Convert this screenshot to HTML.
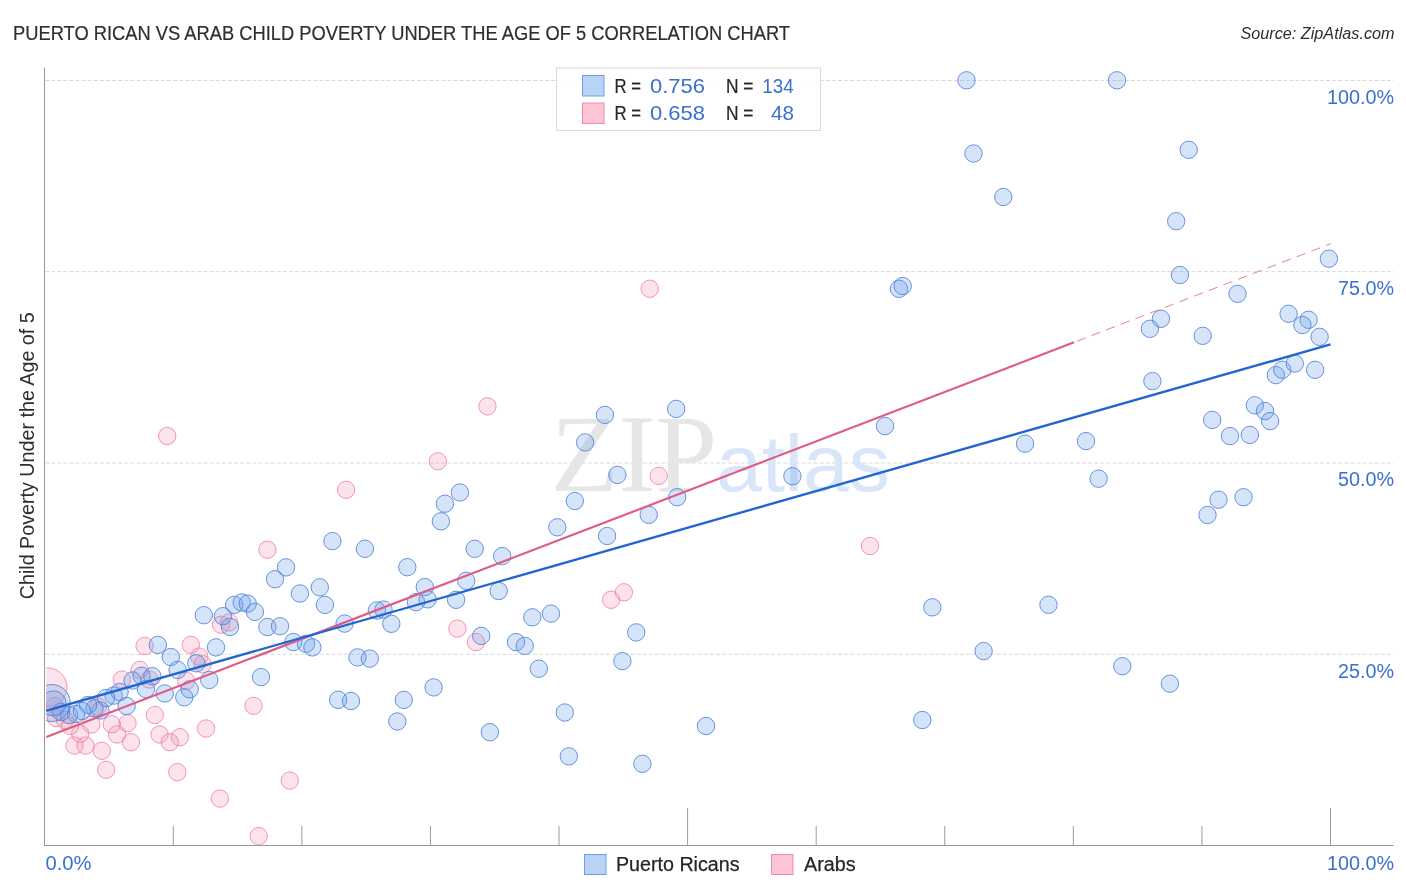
<!DOCTYPE html>
<html><head><meta charset="utf-8"><title>Puerto Rican vs Arab Child Poverty Under the Age of 5 Correlation Chart</title>
<style>
html,body{margin:0;padding:0;background:#fff;}
body{width:1406px;height:892px;overflow:hidden;font-family:"Liberation Sans",sans-serif;}
svg{display:block}
.b{fill:rgba(105,155,238,0.27);stroke:#4f82d6;stroke-width:1;stroke-opacity:.85}
.p{fill:rgba(245,150,180,0.28);stroke:#ee7f9f;stroke-width:1;stroke-opacity:.8}

</style></head><body>
<svg font-family="Liberation Sans, sans-serif" width="1406" height="892" viewBox="0 0 1406 892">
<rect width="1406" height="892" fill="#fff"/>
<defs><clipPath id="cp"><rect x="46.200" y="60" width="1350" height="784.7"/></clipPath></defs>
<text x="13" y="39.8" font-size="20" fill="#2e2e2e" stroke="#2e2e2e" stroke-width="0.2" textLength="777" lengthAdjust="spacingAndGlyphs">PUERTO RICAN VS ARAB CHILD POVERTY UNDER THE AGE OF 5 CORRELATION CHART</text>
<text x="1394.5" y="39" font-size="16" fill="#2e2e2e" font-style="italic" text-anchor="end" textLength="154" lengthAdjust="spacingAndGlyphs">Source: ZipAtlas.com</text>
<line x1="45" y1="80.5" x2="1394" y2="80.5" stroke="#cfcfcf" stroke-width="0.8" stroke-dasharray="4,2.1"/><line x1="45" y1="271.6" x2="1394" y2="271.6" stroke="#cfcfcf" stroke-width="0.8" stroke-dasharray="4,2.1"/><line x1="45" y1="463.0" x2="1394" y2="463.0" stroke="#cfcfcf" stroke-width="0.8" stroke-dasharray="4,2.1"/><line x1="45" y1="654.3" x2="1394" y2="654.3" stroke="#cfcfcf" stroke-width="0.8" stroke-dasharray="4,2.1"/>
<!-- watermark -->
<g opacity="1">
<text x="550.8" y="491.3" style="font-family:'Liberation Serif',serif" font-size="110" fill="#e6e6e6" textLength="166.5" lengthAdjust="spacingAndGlyphs">ZIP</text>
<text x="716.3" y="491" font-size="79" fill="#d9e5f8" textLength="173.5" lengthAdjust="spacingAndGlyphs">atlas</text>
</g>
<line x1="44.5" y1="67.5" x2="44.5" y2="846" stroke="#9a9a9a" stroke-width="1"/>
<line x1="44" y1="845.5" x2="1393.5" y2="845.5" stroke="#9a9a9a" stroke-width="1"/>
<line x1="173.28" y1="826" x2="173.28" y2="845.5" stroke="#9c9c9c" stroke-width="1"/><line x1="301.86" y1="826" x2="301.86" y2="845.5" stroke="#9c9c9c" stroke-width="1"/><line x1="430.44" y1="826" x2="430.44" y2="845.5" stroke="#9c9c9c" stroke-width="1"/><line x1="559.02" y1="826" x2="559.02" y2="845.5" stroke="#9c9c9c" stroke-width="1"/><line x1="687.60" y1="808" x2="687.60" y2="845.5" stroke="#9c9c9c" stroke-width="1"/><line x1="816.18" y1="826" x2="816.18" y2="845.5" stroke="#9c9c9c" stroke-width="1"/><line x1="944.76" y1="826" x2="944.76" y2="845.5" stroke="#9c9c9c" stroke-width="1"/><line x1="1073.34" y1="826" x2="1073.34" y2="845.5" stroke="#9c9c9c" stroke-width="1"/><line x1="1201.92" y1="826" x2="1201.92" y2="845.5" stroke="#9c9c9c" stroke-width="1"/><line x1="1330.50" y1="808" x2="1330.50" y2="845.5" stroke="#9c9c9c" stroke-width="1"/>
<g clip-path="url(#cp)">
<circle class="p" cx="437.9" cy="461.3" r="8.7"/><circle class="p" cx="346.1" cy="489.8" r="8.7"/><circle class="p" cx="267.4" cy="549.7" r="8.7"/><circle class="p" cx="167.25" cy="436" r="8.7"/><circle class="p" cx="487.4" cy="406.3" r="8.7"/><circle class="p" cx="658.7" cy="475.9" r="8.7"/><circle class="p" cx="870.0" cy="546.0" r="8.7"/><circle class="p" cx="649.75" cy="288.75" r="8.7"/><circle class="p" cx="457.4" cy="628.6" r="8.7"/><circle class="p" cx="475.9" cy="642.1" r="8.7"/><circle class="p" cx="611.1" cy="599.8" r="8.7"/><circle class="p" cx="623.9" cy="592.3" r="8.7"/><circle class="p" cx="253.5" cy="705.8" r="8.7"/><circle class="p" cx="206" cy="728.5" r="8.7"/><circle class="p" cx="154.8" cy="715" r="8.7"/><circle class="p" cx="159.5" cy="734.5" r="8.7"/><circle class="p" cx="179.8" cy="737.2" r="8.7"/><circle class="p" cx="169.8" cy="742.2" r="8.7"/><circle class="p" cx="177.3" cy="772.2" r="8.7"/><circle class="p" cx="219.9" cy="798.6" r="8.7"/><circle class="p" cx="289.8" cy="780.6" r="8.7"/><circle class="p" cx="258.7" cy="836.1" r="8.7"/><circle class="p" cx="106.2" cy="769.8" r="8.7"/><circle class="p" cx="101.8" cy="750.8" r="8.7"/><circle class="p" cx="130.9" cy="742.2" r="8.7"/><circle class="p" cx="117" cy="734.5" r="8.7"/><circle class="p" cx="127.5" cy="723.2" r="8.7"/><circle class="p" cx="111.8" cy="724.3" r="8.7"/><circle class="p" cx="74.5" cy="745.5" r="8.7"/><circle class="p" cx="85.5" cy="745.5" r="8.7"/><circle class="p" cx="80.2" cy="733.8" r="8.7"/><circle class="p" cx="91.3" cy="724.5" r="8.7"/><circle class="p" cx="139.6" cy="669.9" r="8.7"/><circle class="p" cx="121.9" cy="679.6" r="8.7"/><circle class="p" cx="149.3" cy="679.5" r="8.7"/><circle class="p" cx="98" cy="706.5" r="8.7"/><circle class="p" cx="144.6" cy="646" r="8.7"/><circle class="p" cx="190.8" cy="644.9" r="8.7"/><circle class="p" cx="199.2" cy="656.6" r="8.7"/><circle class="p" cx="202.6" cy="664.2" r="8.7"/><circle class="p" cx="221.1" cy="624.7" r="8.7"/><circle class="p" cx="229.1" cy="622.4" r="8.7"/><circle class="p" cx="186.2" cy="681" r="8.7"/><circle class="p" cx="55" cy="706" r="8.7"/><circle class="p" cx="56" cy="718" r="8.7"/><circle class="p" cx="65" cy="720" r="8.7"/><circle class="p" cx="70" cy="726" r="8.7"/><circle class="p" cx="47.7" cy="687.3" r="19.3"/>
<circle class="b" cx="332.4" cy="541.1" r="8.7"/><circle class="b" cx="364.9" cy="548.8" r="8.7"/><circle class="b" cx="286.0" cy="567.4" r="8.7"/><circle class="b" cx="275.0" cy="579.2" r="8.7"/><circle class="b" cx="407.3" cy="567.2" r="8.7"/><circle class="b" cx="319.8" cy="587.3" r="8.7"/><circle class="b" cx="299.9" cy="593.5" r="8.7"/><circle class="b" cx="324.9" cy="604.9" r="8.7"/><circle class="b" cx="424.8" cy="587.1" r="8.7"/><circle class="b" cx="427.6" cy="599.3" r="8.7"/><circle class="b" cx="416.0" cy="602.1" r="8.7"/><circle class="b" cx="383.5" cy="609.6" r="8.7"/><circle class="b" cx="376.9" cy="610.5" r="8.7"/><circle class="b" cx="234.2" cy="604.9" r="8.7"/><circle class="b" cx="241.7" cy="602.5" r="8.7"/><circle class="b" cx="247.7" cy="603.6" r="8.7"/><circle class="b" cx="254.9" cy="611.9" r="8.7"/><circle class="b" cx="203.8" cy="615.2" r="8.7"/><circle class="b" cx="222.9" cy="616.2" r="8.7"/><circle class="b" cx="604.9" cy="414.9" r="8.7"/><circle class="b" cx="676.2" cy="408.9" r="8.7"/><circle class="b" cx="585.1" cy="442.4" r="8.7"/><circle class="b" cx="617.4" cy="474.9" r="8.7"/><circle class="b" cx="574.8" cy="501.0" r="8.7"/><circle class="b" cx="677.2" cy="497.2" r="8.7"/><circle class="b" cx="648.7" cy="514.8" r="8.7"/><circle class="b" cx="557.3" cy="527.3" r="8.7"/><circle class="b" cx="607.1" cy="536.0" r="8.7"/><circle class="b" cx="459.9" cy="492.5" r="8.7"/><circle class="b" cx="444.9" cy="503.7" r="8.7"/><circle class="b" cx="474.7" cy="548.8" r="8.7"/><circle class="b" cx="502.2" cy="556.1" r="8.7"/><circle class="b" cx="440.9" cy="521.3" r="8.7"/><circle class="b" cx="885.0" cy="426.1" r="8.7"/><circle class="b" cx="1025.0" cy="443.7" r="8.7"/><circle class="b" cx="792.4" cy="476.2" r="8.7"/><circle class="b" cx="1152.4" cy="381.1" r="8.7"/><circle class="b" cx="1086.0" cy="441.1" r="8.7"/><circle class="b" cx="1098.6" cy="478.7" r="8.7"/><circle class="b" cx="1212.2" cy="419.9" r="8.7"/><circle class="b" cx="1230.0" cy="436.1" r="8.7"/><circle class="b" cx="1249.8" cy="434.9" r="8.7"/><circle class="b" cx="1254.8" cy="405.3" r="8.7"/><circle class="b" cx="1265.0" cy="411.1" r="8.7"/><circle class="b" cx="1270.1" cy="421.1" r="8.7"/><circle class="b" cx="1275.8" cy="375.1" r="8.7"/><circle class="b" cx="1282.3" cy="369.8" r="8.7"/><circle class="b" cx="1294.8" cy="363.5" r="8.7"/><circle class="b" cx="1315.1" cy="369.8" r="8.7"/><circle class="b" cx="1218.5" cy="499.7" r="8.7"/><circle class="b" cx="1243.5" cy="497.2" r="8.7"/><circle class="b" cx="1207.5" cy="515.0" r="8.7"/><circle class="b" cx="1188.7" cy="149.8" r="8.7"/><circle class="b" cx="1176.2" cy="221.2" r="8.7"/><circle class="b" cx="1179.9" cy="275.0" r="8.7"/><circle class="b" cx="1328.9" cy="258.7" r="8.7"/><circle class="b" cx="1237.5" cy="293.8" r="8.7"/><circle class="b" cx="1160.9" cy="318.8" r="8.7"/><circle class="b" cx="1149.9" cy="328.8" r="8.7"/><circle class="b" cx="1202.7" cy="335.8" r="8.7"/><circle class="b" cx="1288.6" cy="313.8" r="8.7"/><circle class="b" cx="1308.6" cy="319.8" r="8.7"/><circle class="b" cx="1302.4" cy="325.0" r="8.7"/><circle class="b" cx="1319.6" cy="336.8" r="8.7"/><circle class="b" cx="966.5" cy="80.3" r="8.7"/><circle class="b" cx="1117" cy="80.3" r="8.7"/><circle class="b" cx="973.5" cy="153.5" r="8.7"/><circle class="b" cx="1003.3" cy="197" r="8.7"/><circle class="b" cx="899" cy="288.8" r="8.7"/><circle class="b" cx="902.7" cy="286" r="8.7"/><circle class="b" cx="466.2" cy="580.8" r="8.7"/><circle class="b" cx="456.1" cy="599.8" r="8.7"/><circle class="b" cx="498.7" cy="591.0" r="8.7"/><circle class="b" cx="391.3" cy="623.8" r="8.7"/><circle class="b" cx="357.5" cy="657.4" r="8.7"/><circle class="b" cx="369.8" cy="658.6" r="8.7"/><circle class="b" cx="433.6" cy="687.4" r="8.7"/><circle class="b" cx="403.8" cy="699.9" r="8.7"/><circle class="b" cx="397.3" cy="721.5" r="8.7"/><circle class="b" cx="481.2" cy="635.9" r="8.7"/><circle class="b" cx="516.0" cy="642.1" r="8.7"/><circle class="b" cx="524.7" cy="645.9" r="8.7"/><circle class="b" cx="532.3" cy="617.3" r="8.7"/><circle class="b" cx="551.0" cy="613.6" r="8.7"/><circle class="b" cx="538.8" cy="668.7" r="8.7"/><circle class="b" cx="489.9" cy="732.2" r="8.7"/><circle class="b" cx="564.8" cy="712.5" r="8.7"/><circle class="b" cx="568.8" cy="756.3" r="8.7"/><circle class="b" cx="636.2" cy="632.4" r="8.7"/><circle class="b" cx="622.4" cy="661.1" r="8.7"/><circle class="b" cx="642.4" cy="763.8" r="8.7"/><circle class="b" cx="932.3" cy="607.3" r="8.7"/><circle class="b" cx="1048.5" cy="604.8" r="8.7"/><circle class="b" cx="983.6" cy="651.1" r="8.7"/><circle class="b" cx="922.3" cy="720.0" r="8.7"/><circle class="b" cx="706.0" cy="726.0" r="8.7"/><circle class="b" cx="1122.3" cy="666.2" r="8.7"/><circle class="b" cx="1169.9" cy="683.7" r="8.7"/><circle class="b" cx="338.2" cy="699.8" r="8.7"/><circle class="b" cx="351" cy="701" r="8.7"/><circle class="b" cx="184.3" cy="697.3" r="8.7"/><circle class="b" cx="164.7" cy="693.5" r="8.7"/><circle class="b" cx="189.7" cy="689.3" r="8.7"/><circle class="b" cx="145.9" cy="689" r="8.7"/><circle class="b" cx="126.6" cy="706" r="8.7"/><circle class="b" cx="100.5" cy="710.5" r="8.7"/><circle class="b" cx="94.5" cy="708.2" r="8.7"/><circle class="b" cx="88" cy="705" r="8.7"/><circle class="b" cx="113.6" cy="695.6" r="8.7"/><circle class="b" cx="119.6" cy="692" r="8.7"/><circle class="b" cx="106" cy="698" r="8.7"/><circle class="b" cx="132.6" cy="680.5" r="8.7"/><circle class="b" cx="141.6" cy="675.8" r="8.7"/><circle class="b" cx="152.3" cy="676.2" r="8.7"/><circle class="b" cx="170.8" cy="657" r="8.7"/><circle class="b" cx="177.6" cy="669.9" r="8.7"/><circle class="b" cx="157.8" cy="644.9" r="8.7"/><circle class="b" cx="196.3" cy="663.3" r="8.7"/><circle class="b" cx="216" cy="647.4" r="8.7"/><circle class="b" cx="209.3" cy="680" r="8.7"/><circle class="b" cx="261" cy="677.1" r="8.7"/><circle class="b" cx="230" cy="626.9" r="8.7"/><circle class="b" cx="267.4" cy="627" r="8.7"/><circle class="b" cx="280" cy="626.2" r="8.7"/><circle class="b" cx="293.4" cy="642" r="8.7"/><circle class="b" cx="306" cy="643.8" r="8.7"/><circle class="b" cx="312.4" cy="647.4" r="8.7"/><circle class="b" cx="344.6" cy="623.6" r="8.7"/><circle class="b" cx="76" cy="714" r="8.7"/><circle class="b" cx="69" cy="715" r="8.7"/><circle class="b" cx="61" cy="712" r="8.7"/><circle class="b" cx="82" cy="711" r="8.7"/><circle class="b" cx="51.7" cy="703" r="18.5"/><circle class="b" cx="53.5" cy="703.5" r="12.6"/>
<line x1="1074" y1="342.3" x2="1331" y2="243.6" stroke="#ea7f9c" stroke-width="1" stroke-dasharray="9.5,6.2" stroke-dashoffset="-3"/>
<line x1="45" y1="737.5" x2="1074" y2="342.3" stroke="#e05a84" stroke-width="2.15"/>
<line x1="45" y1="711" x2="1330.500" y2="344.4" stroke="#2166cf" stroke-width="2.35"/>
</g>
<!-- y labels -->
<g font-size="20" fill="#3b6fd0" text-anchor="end">
<text x="1394" y="104" textLength="67" lengthAdjust="spacingAndGlyphs">100.0%</text>
<text x="1394" y="295" textLength="56" lengthAdjust="spacingAndGlyphs">75.0%</text>
<text x="1394" y="486" textLength="56" lengthAdjust="spacingAndGlyphs">50.0%</text>
<text x="1394" y="678" textLength="56" lengthAdjust="spacingAndGlyphs">25.0%</text>
</g>
<g font-size="20" fill="#3b6fd0">
<text x="45.5" y="870" textLength="46" lengthAdjust="spacingAndGlyphs">0.0%</text>
<text x="1394" y="870" text-anchor="end" textLength="67" lengthAdjust="spacingAndGlyphs">100.0%</text>
</g>
<text transform="translate(34.3,455.8) rotate(-90)" text-anchor="middle" font-size="20.3" fill="#2e2e2e" textLength="287" lengthAdjust="spacingAndGlyphs">Child Poverty Under the Age of 5</text>
<!-- legend top -->
<rect x="556.5" y="68" width="264" height="62.5" fill="#fff" fill-opacity="0.85" stroke="#d9d9d9" stroke-width="1"/>
<rect x="582.500" y="75.500" width="21.5" height="20.5" fill="#b9d3f5" stroke="#6a9fe6"/>
<rect x="582.500" y="103" width="21.5" height="20.5" fill="#fbc5d5" stroke="#f08cab"/>
<g font-size="19.5" fill="#262626" stroke="#262626" stroke-width="0.2">
<text x="614.5" y="93" textLength="26.5" lengthAdjust="spacingAndGlyphs">R =</text><text x="726" y="93" textLength="27.5" lengthAdjust="spacingAndGlyphs">N =</text>
<text x="614.5" y="120" textLength="26.5" lengthAdjust="spacingAndGlyphs">R =</text><text x="726" y="120" textLength="27.5" lengthAdjust="spacingAndGlyphs">N =</text>
</g>
<g font-size="21" fill="#3b6fd0">
<text x="650" y="93.3" textLength="55" lengthAdjust="spacingAndGlyphs">0.756</text><text x="793.7" y="93.3" text-anchor="end" textLength="31.5" lengthAdjust="spacingAndGlyphs">134</text>
<text x="650" y="120.3" textLength="55" lengthAdjust="spacingAndGlyphs">0.658</text><text x="794" y="120.3" text-anchor="end" textLength="23" lengthAdjust="spacingAndGlyphs">48</text>
</g>
<!-- legend bottom -->
<rect x="584.500" y="854.500" width="21.5" height="20" fill="#b9d3f5" stroke="#6a9fe6"/>
<rect x="771.500" y="854.500" width="21.5" height="20" fill="#fbc5d5" stroke="#f08cab"/>
<g font-size="20" fill="#262626" stroke="#262626" stroke-width="0.25">
<text x="616" y="870.8" textLength="123.5" lengthAdjust="spacingAndGlyphs">Puerto Ricans</text>
<text x="804" y="870.8" textLength="51.5" lengthAdjust="spacingAndGlyphs">Arabs</text>
</g>
</svg>
</body></html>
